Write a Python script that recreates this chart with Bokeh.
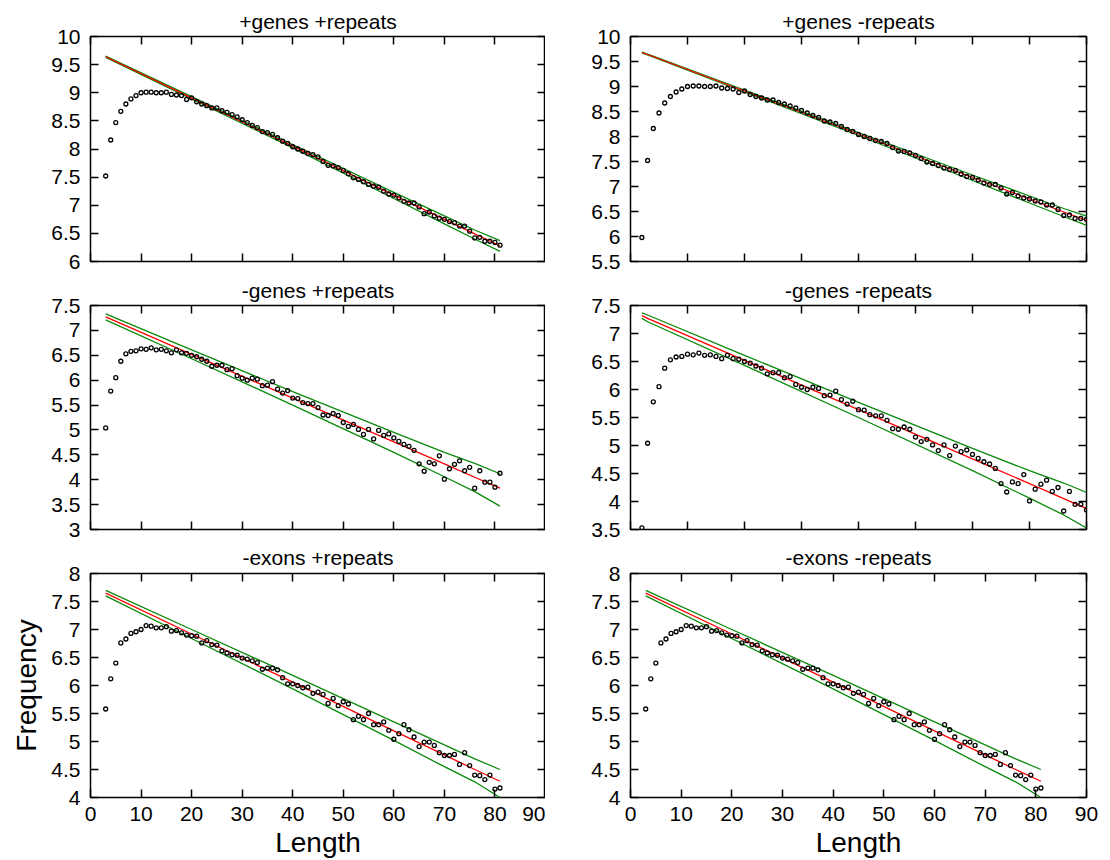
from bokeh.plotting import figure
from bokeh.models import LinearAxis, FixedTicker, Range1d, NumeralTickFormatter
from bokeh.layouts import column, row
from bokeh.embed import file_html
from bokeh.resources import INLINE

FONT = "Liberation Sans"
RED = "#ff0000"
GREEN = "#0a8a0a"

# ---- data -----------------------------------------------------------------
# lengths 3..81 (shared by every panel)
length = list(range(3, 82))

# log frequency per length
freq_genes = [
    7.52, 8.16, 8.47, 8.67, 8.80, 8.89, 8.95, 9.00, 9.01, 9.01,
    9.00, 9.00, 9.01, 8.97, 8.96, 8.95, 8.88, 8.91, 8.84, 8.80,
    8.77, 8.73, 8.73, 8.68, 8.65, 8.61, 8.57, 8.52, 8.47, 8.42,
    8.38, 8.31, 8.29, 8.26, 8.20, 8.14, 8.10, 8.04, 8.00, 7.96,
    7.92, 7.90, 7.86, 7.78, 7.71, 7.70, 7.67, 7.62, 7.56, 7.49,
    7.46, 7.42, 7.37, 7.34, 7.32, 7.25, 7.20, 7.18, 7.13, 7.07,
    7.04, 7.04, 6.97, 6.85, 6.88, 6.81, 6.77, 6.75, 6.71, 6.69,
    6.63, 6.63, 6.54, 6.42, 6.43, 6.36, 6.36, 6.34, 6.29,
]
freq_nogenes = [
    5.04, 5.78, 6.05, 6.38, 6.53, 6.58, 6.59, 6.63, 6.62, 6.65,
    6.61, 6.62, 6.59, 6.55, 6.61, 6.55, 6.54, 6.50, 6.47, 6.42,
    6.38, 6.28, 6.30, 6.30, 6.21, 6.23, 6.09, 6.04, 6.00, 6.04,
    6.02, 5.89, 5.90, 5.97, 5.82, 5.74, 5.79, 5.64, 5.63, 5.55,
    5.53, 5.53, 5.45, 5.30, 5.29, 5.33, 5.29, 5.15, 5.07, 5.11,
    5.01, 4.91, 5.01, 4.82, 4.99, 4.89, 4.92, 4.84, 4.77, 4.71,
    4.67, 4.59, 4.32, 4.17, 4.35, 4.32, 4.48, 4.01, 4.22, 4.31,
    4.38, 4.18, 4.25, 3.83, 4.18, 3.95, 3.95, 3.85, 4.13,
]
freq_noexons = [
    5.58, 6.12, 6.40, 6.76, 6.83, 6.93, 6.96, 7.00, 7.07, 7.06,
    7.03, 7.03, 7.05, 6.97, 6.98, 6.94, 6.90, 6.89, 6.88, 6.76,
    6.80, 6.73, 6.72, 6.62, 6.58, 6.55, 6.54, 6.49, 6.47, 6.44,
    6.41, 6.29, 6.31, 6.31, 6.28, 6.14, 6.03, 6.03, 6.00, 5.96,
    5.97, 5.86, 5.88, 5.84, 5.68, 5.77, 5.64, 5.71, 5.67, 5.39,
    5.45, 5.39, 5.50, 5.30, 5.30, 5.35, 5.20, 5.04, 5.14, 5.30,
    5.21, 5.08, 4.91, 4.99, 4.99, 4.93, 4.80, 4.75, 4.75, 4.77,
    4.59, 4.80, 4.57, 4.40, 4.39, 4.32, 4.40, 4.15, 4.17,
]

# the "-repeats" runs of the gene sets also report length 2
length_short = 2
freq_genes_short = 5.98
freq_nogenes_short = 3.53

# regression line and its confidence band, sampled at these lengths
fit_len = [2, 3, 20, 40, 60, 70, 76, 81]
fit_genes = [9.68, 9.64, 8.91, 8.05, 7.18, 6.75, 6.49, 6.28]
hi_genes = [9.69, 9.65, 8.93, 8.08, 7.23, 6.81, 6.56, 6.37]
lo_genes = [9.67, 9.63, 8.89, 8.02, 7.12, 6.67, 6.40, 6.18]

fit_nogenes = [7.32, 7.27, 6.52, 5.64, 4.76, 4.32, 4.05, 3.83]
hi_nogenes = [7.37, 7.33, 6.61, 5.77, 4.95, 4.55, 4.33, 4.12]
lo_nogenes = [7.27, 7.21, 6.43, 5.50, 4.55, 4.06, 3.76, 3.47]

fit_len_exons = [3, 20, 40, 60, 70, 76, 81]
fit_noexons = [7.65, 6.92, 6.06, 5.19, 4.76, 4.50, 4.29]
hi_noexons = [7.70, 7.00, 6.18, 5.35, 4.94, 4.69, 4.50]
lo_noexons = [7.60, 6.84, 5.94, 5.02, 4.55, 4.28, 4.00]

# axis ticks
x_ticks = [0, 10, 20, 30, 40, 50, 60, 70, 80, 90]
y_ticks_a = [6, 6.5, 7, 7.5, 8, 8.5, 9, 9.5, 10]
y_ticks_b = [5.5, 6, 6.5, 7, 7.5, 8, 8.5, 9, 9.5, 10]
y_ticks_c = [3, 3.5, 4, 4.5, 5, 5.5, 6, 6.5, 7, 7.5]
y_ticks_d = [3.5, 4, 4.5, 5, 5.5, 6, 6.5, 7, 7.5]
y_ticks_e = [4, 4.5, 5, 5.5, 6, 6.5, 7, 7.5, 8]

# ---- layout geometry --------------------------------------------------------
LEFT_W, RIGHT_W = 545, 565
ROW_H = [275, 268, 317]
ROW_TOP = [36, 30, 30]
ROW_BOTTOM = [14, 14, 62]
TITLE_GAP = [4, 4, 5]


def style_axis(ax, ticks, labelled, size="21px"):
    ax.ticker = FixedTicker(ticks=ticks)
    ax.formatter = NumeralTickFormatter(format="0.[0]")
    ax.axis_line_color = None
    ax.major_tick_in = 8
    ax.major_tick_out = 0
    ax.major_tick_line_width = 1.5
    ax.major_tick_line_color = "black"
    ax.minor_tick_line_color = None
    ax.major_label_text_font = FONT
    if labelled:
        ax.major_label_text_font_size = size
        ax.major_label_text_color = "black"
    else:
        # mirrored tick marks only
        ax.major_label_text_font_size = "0px"
        ax.major_label_text_color = None
        ax.major_label_standoff = 0


def panel(title, col, rw, xr, yr, yticks, xlabelled):
    left = col == 0
    p = figure(
        width=LEFT_W if left else RIGHT_W,
        height=ROW_H[rw],
        x_range=Range1d(*xr),
        y_range=Range1d(*yr),
        output_backend="svg",
        toolbar_location=None,
        min_border_left=90 if left else 85,
        min_border_right=0 if left else 24,
        min_border_top=ROW_TOP[rw],
        min_border_bottom=ROW_BOTTOM[rw],
        background_fill_color="white",
        border_fill_color="white",
        outline_line_color="black",
        outline_line_width=1.5,
    )
    p.xgrid.visible = False
    p.ygrid.visible = False
    p.title.text = title
    p.title.align = "center"
    p.title.vertical_align = "top"
    p.title.text_font = FONT
    p.title.text_font_size = "21px"
    p.title.text_font_style = "normal"
    p.title.text_color = "black"
    p.title.standoff = TITLE_GAP[rw]

    bottom = p.below[0]
    style_axis(bottom, x_ticks, xlabelled)
    bottom.major_label_standoff = 9 if xlabelled else 0
    leftax = p.left[0]
    style_axis(leftax, yticks, True)
    leftax.major_label_standoff = 10

    top = LinearAxis()
    style_axis(top, x_ticks, False)
    p.add_layout(top, "above")
    right = LinearAxis()
    style_axis(right, yticks, False)
    p.add_layout(right, "right")
    return p, bottom, leftax


def draw(p, lx, fit, hi, lo, px, py):
    p.line(lx, hi, line_color=GREEN, line_width=1.3)
    p.line(lx, lo, line_color=GREEN, line_width=1.3)
    p.line(lx, fit, line_color=RED, line_width=1.3)
    p.scatter(px, py, marker="circle", size=4, fill_color=None,
              line_color="black", line_width=1.3)


# +genes +repeats
p1, _, _ = panel("+genes +repeats", 0, 0, (0, 90), (6, 10), y_ticks_a, False)
draw(p1, fit_len[1:], fit_genes[1:], hi_genes[1:], lo_genes[1:],
     length, freq_genes)

# +genes -repeats
p2, _, _ = panel("+genes -repeats", 1, 0, (0, 80), (5.5, 10), y_ticks_b, False)
draw(p2, fit_len, fit_genes, hi_genes, lo_genes,
     [length_short] + length, [freq_genes_short] + freq_genes)

# -genes +repeats
p3, _, _ = panel("-genes +repeats", 0, 1, (0, 90), (3, 7.5), y_ticks_c, False)
draw(p3, fit_len[1:], fit_nogenes[1:], hi_nogenes[1:], lo_nogenes[1:],
     length, freq_nogenes)

# -genes -repeats
p4, _, _ = panel("-genes -repeats", 1, 1, (0, 80), (3.5, 7.5), y_ticks_d, False)
draw(p4, fit_len, fit_nogenes, hi_nogenes, lo_nogenes,
     [length_short] + length, [freq_nogenes_short] + freq_nogenes)

# -exons +repeats
p5, x5, y5 = panel("-exons +repeats", 0, 2, (0, 90), (4, 8), y_ticks_e, True)
draw(p5, fit_len_exons, fit_noexons, hi_noexons, lo_noexons,
     length, freq_noexons)

# -exons -repeats
p6, x6, _ = panel("-exons -repeats", 1, 2, (0, 90), (4, 8), y_ticks_e, True)
draw(p6, fit_len_exons, fit_noexons, hi_noexons, lo_noexons,
     length, freq_noexons)

for ax in (x5, x6):
    ax.axis_label = "Length"
    ax.axis_label_text_font = FONT
    ax.axis_label_text_font_size = "28px"
    ax.axis_label_text_font_style = "normal"
    ax.axis_label_text_color = "black"
    ax.axis_label_standoff = 3
y5.axis_label = "Frequency"
y5.axis_label_text_font = FONT
y5.axis_label_text_font_size = "28px"
y5.axis_label_text_font_style = "normal"
y5.axis_label_text_color = "black"
y5.axis_label_standoff = 6

layout = column(row(p1, p2), row(p3, p4), row(p5, p6))

with open("out.html", "w") as f:
    f.write(file_html(layout, INLINE))
